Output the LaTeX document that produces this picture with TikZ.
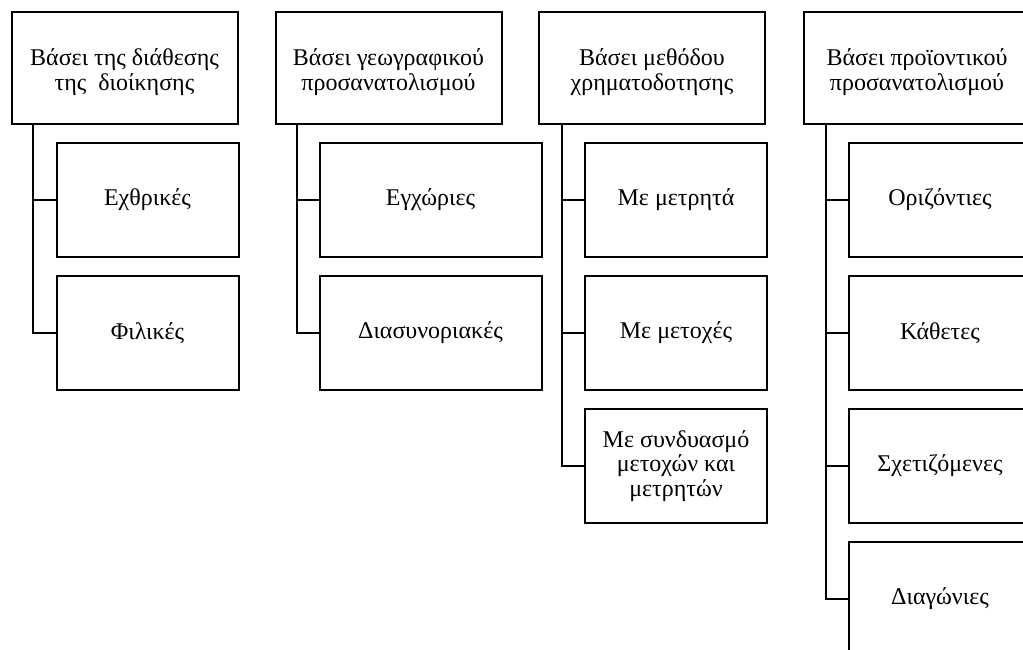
\documentclass[tikz,border=0pt]{standalone}
\usepackage{fontspec}
\setmainfont{Liberation Serif}
\usetikzlibrary{positioning}

\begin{document}
\begin{tikzpicture}[
    x=0.5pt, y=-0.5pt,
    every node/.style={font=\fontsize{12}{12.3}\selectfont},
    head/.style={draw, rectangle, minimum width=113pt, minimum height=56pt, align=center, line width=1pt, text height=25pt},
    sub/.style={draw, rectangle, minimum width=91pt, minimum height=57pt, align=center, line width=1pt},
    wide/.style={sub, minimum width=111pt},
    link/.style={line width=1pt}
]
    \useasboundingbox (0,0) rectangle (1023,649);

    % Κεφαλίδες κατηγοριών
    \node (hdmgmt) [head] at (124.5,68) {Βάσει της διάθεσης\\της\ \ διοίκησης};
    \node (hdgeo) [head] at (388.5,68) {Βάσει γεωγραφικού\\προσανατολισμού};
    \node (hdfin) [head] at (652,68) {Βάσει μεθόδου\\χρηματοδοτησης};
    \node (hdprod) [head] at (917,68) {Βάσει προϊοντικού\\προσανατολισμού};

    % Διάθεση της διοίκησης
    \node (hostile) [sub, below right=8.5pt and 22.5pt of hdmgmt.south west] {Εχθρικές};
    \node (friendly) [sub, below=8.5pt of hostile] {Φιλικές};

    % Γεωγραφικός προσανατολισμός
    \node (domestic) [wide, below right=8.5pt and 22pt of hdgeo.south west] {Εγχώριες};
    \node (crossb) [wide, below=8.5pt of domestic] {Διασυνοριακές};

    % Μέθοδος χρηματοδότησης
    \node (cash) [sub, below right=8.5pt and 23pt of hdfin.south west] {Με μετρητά};
    \node (shares) [sub, below=8.5pt of cash] {Με μετοχές};
    \node (mixed) [sub, below=8.5pt of shares] {Με συνδυασμό\\μετοχών και\\μετρητών};

    % Προϊοντικός προσανατολισμός
    \node (horiz) [sub, below right=8.5pt and 22.5pt of hdprod.south west] {Οριζόντιες};
    \node (vert) [sub, below=8.5pt of horiz] {Κάθετες};
    \node (related) [sub, below=8.5pt of vert] {Σχετιζόμενες};
    \node (diag) [sub, below=8.5pt of related] {Διαγώνιες};

    % Κορμοί
    \coordinate (trmgmt) at ([xshift=11pt]hdmgmt.south west);
    \coordinate (trgeo) at ([xshift=11pt]hdgeo.south west);
    \coordinate (trfin) at ([xshift=12pt]hdfin.south west);
    \coordinate (trprod) at ([xshift=11.5pt]hdprod.south west);

    % Συνδέσεις
    \draw [link] (trmgmt) |- (hostile.west);
    \draw [link] (trmgmt) |- (friendly.west);
    \draw [link] (trgeo) |- (domestic.west);
    \draw [link] (trgeo) |- (crossb.west);
    \draw [link] (trfin) |- (cash.west);
    \draw [link] (trfin) |- (shares.west);
    \draw [link] (trfin) |- (mixed.west);
    \draw [link] (trprod) |- (horiz.west);
    \draw [link] (trprod) |- (vert.west);
    \draw [link] (trprod) |- (related.west);
    \draw [link] (trprod) |- (diag.west);

\end{tikzpicture}
\end{document}
